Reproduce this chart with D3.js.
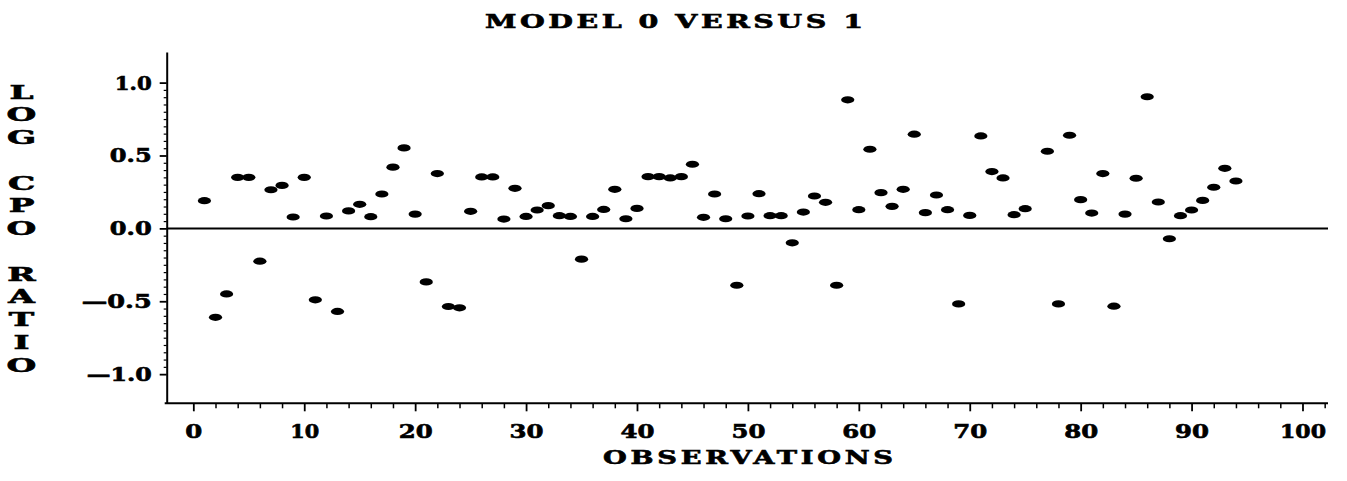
<!DOCTYPE html>
<html>
<head>
<meta charset="utf-8">
<script src="https://cdn.jsdelivr.net/npm/d3@7"></script>
<style>
    body { margin: 0; background: white; }
    text {
        font-family: "DejaVu Serif", "Liberation Serif", serif;
        font-weight: bold;
        fill: black;
        stroke: black;
        stroke-width: 0.6px;
    }
</style>
</head>
<body>
<div id="canvas"></div>
<script>
"use strict"

/* Data */
let observations = [
    1, 2, 3, 4, 5, 6, 7, 8, 9, 10, 11, 12, 13, 14, 15, 16, 17, 18, 19, 20,
    21, 22, 23, 24, 25, 26, 27, 28, 29, 30, 31, 32, 33, 34, 35, 36, 37, 38, 39, 40,
    41, 42, 43, 44, 45, 46, 47, 48, 49, 50, 51, 52, 53, 54, 55, 56, 57, 58, 59, 60,
    61, 62, 63, 64, 65, 66, 67, 68, 69, 70, 71, 72, 73, 74, 75, 77, 78, 79, 80,
    81, 82, 83, 84, 85, 86, 87, 88, 89, 90, 91, 92, 93, 94
];
let logCpoRatio = [
    0.19, -0.61, -0.45, 0.35, 0.35, -0.225, 0.265, 0.295, 0.078, 0.35,
    -0.49, 0.085, -0.57, 0.12, 0.165, 0.08, 0.236, 0.42, 0.552, 0.098,
    -0.367, 0.376, -0.536, -0.545, 0.117, 0.353, 0.353, 0.064, 0.275, 0.082,
    0.126, 0.156, 0.087, 0.082, -0.211, 0.082, 0.13, 0.268, 0.066, 0.137,
    0.355, 0.355, 0.346, 0.355, 0.44, 0.076, 0.236, 0.066, -0.39, 0.085,
    0.238, 0.087, 0.087, -0.099, 0.112, 0.222, 0.179, -0.39, 0.882, 0.128,
    0.543, 0.245, 0.151, 0.268, 0.646, 0.108, 0.229, 0.128, -0.518, 0.089,
    0.634, 0.39, 0.346, 0.094, 0.135, 0.529, -0.518, 0.639, 0.197,
    0.105, 0.376, -0.534, 0.098, 0.344, 0.903, 0.181, -0.071, 0.087, 0.126,
    0.192, 0.282, 0.412, 0.325
];
let xTicks = [0, 10, 20, 30, 40, 50, 60, 70, 80, 90, 100];
let yTicks = [-1.0, -0.5, 0.0, 0.5, 1.0];
let chartTitle = "MODEL 0 VERSUS 1";
let xTitle = "OBSERVATIONS";
let yTitle = "LOG CPO RATIO";

/* Configuration variables: drawing */
let svgWidth = 1347;
let svgHeight = 481;
let plotLeft = 166.7, plotRight = 1328, plotTop = 52, plotBottom = 403.3;

let svg = d3.select("#canvas")
    .append("svg")
    .attr("width", svgWidth)
    .attr("height", svgHeight);

let x = d3.scaleLinear()
    .domain([-2.4, 102.3])
    .range([plotLeft, plotRight]);

let y = d3.scaleLinear()
    .domain([-1.2, 1.21])
    .range([plotBottom, plotTop]);

/* the original type is a very wide bold serif: stretch glyphs around the anchor */
function stretch(t, sx) {
    let tx = +t.attr("x") || 0;
    t.attr("transform", "translate(" + tx + ",0) scale(" + sx + ",1) translate(" + (-tx) + ",0)");
}

/* wanted printed width of a tick label, from the reference */
function labelWidth(s) {
    let w = 0;
    for (let c of s) {
        if (c === "1") w += 12;
        else if (c === ".") w += 8;
        else if (c === "\u2014") w += 28;
        else w += 17;
    }
    return w;
}

function fitTicks(sel) {
    sel.each(function () {
        let t = d3.select(this);
        let natural = this.getComputedTextLength();
        stretch(t, labelWidth(t.text()) / natural);
    });
}

/* titles: mostly glyph stretch, rest as letter spacing */
function fitTitle(t, width) {
    let natural = t.node().getComputedTextLength();
    let sx = Math.min(2.2, 0.86 * width / natural);
    t.attr("textLength", width / sx).attr("lengthAdjust", "spacing");
    stretch(t, sx);
}

/* minor ticks first, majors on top */
let xMinor = d3.range(0, 103, 2).filter(d => d % 10 !== 0);
svg.append("g")
    .attr("transform", "translate(0," + plotBottom + ")")
    .call(d3.axisBottom(x).tickValues(xMinor).tickSize(5).tickFormat(""))
    .call(g => g.select(".domain").remove())
    .selectAll("line").attr("stroke-width", 1.5);

let yMinor = d3.range(-20, 21).map(d => d / 20).filter(d => Math.abs(d * 2 - Math.round(d * 2)) > 1e-6);
svg.append("g")
    .attr("transform", "translate(" + plotLeft + ",0)")
    .call(d3.axisLeft(y).tickValues(yMinor).tickSize(3).tickFormat(""))
    .call(g => g.select(".domain").remove())
    .selectAll("line").attr("stroke-width", 1.2);

/* x axis */
let xAxis = svg.append("g")
    .attr("transform", "translate(0," + plotBottom + ")")
    .call(d3.axisBottom(x).tickValues(xTicks).tickSize(8).tickSizeOuter(0));
xAxis.select(".domain").attr("stroke-width", 2).attr("d", "M" + (plotLeft - 2) + ",0H" + plotRight);
xAxis.selectAll("line").attr("stroke-width", 1.8);
xAxis.selectAll("text")
    .attr("y", 34.5)
    .attr("dy", 0)
    .attr("font-family", null)
    .style("font-size", "18px")
    .call(fitTicks);

/* y axis */
let yAxis = svg.append("g")
    .attr("transform", "translate(" + plotLeft + ",0)")
    .call(d3.axisLeft(y).tickValues(yTicks).tickSize(7).tickSizeOuter(0)
        .tickFormat(d => (d < 0 ? "\u2014" : "") + Math.abs(d).toFixed(1)));
yAxis.select(".domain").attr("stroke-width", 2);
yAxis.selectAll("line").attr("stroke-width", 1.8);
yAxis.selectAll("text")
    .attr("x", -15)
    .attr("dy", "0.36em")
    .style("font-size", "18px")
    .call(fitTicks);

/* zero reference line */
svg.append("line")
    .attr("x1", plotLeft)
    .attr("x2", plotRight)
    .attr("y1", y(0))
    .attr("y2", y(0))
    .attr("stroke", "black")
    .attr("stroke-width", 2);

/* points */
let points = observations.map((o, i) => ({ obs: o, value: logCpoRatio[i] }));
svg.selectAll("ellipse")
    .data(points)
    .join("ellipse")
    .attr("cx", d => x(d.obs))
    .attr("cy", d => y(d.value))
    .attr("rx", 6.6)
    .attr("ry", 3.6)
    .attr("fill", "black");

/* titles */
svg.append("text")
    .attr("x", 674)
    .attr("y", 28.5)
    .attr("text-anchor", "middle")
    .style("font-size", "18px")
    .text(chartTitle)
    .call(fitTitle, 378);

svg.append("text")
    .attr("x", 748)
    .attr("y", 464)
    .attr("text-anchor", "middle")
    .style("font-size", "18px")
    .text(xTitle)
    .call(fitTitle, 290);

/* vertical stacked y title, one upright letter per line */
svg.selectAll(".ylabel")
    .data(yTitle.split(""))
    .join("text")
    .attr("class", "ylabel")
    .attr("x", 21.5)
    .attr("y", (d, i) => 92 + i * 22.75 + 6.6)
    .attr("text-anchor", "middle")
    .style("font-size", "18px")
    .text(d => d)
    .each(function () { stretch(d3.select(this), 1.9); });
</script>
</body>
</html>
